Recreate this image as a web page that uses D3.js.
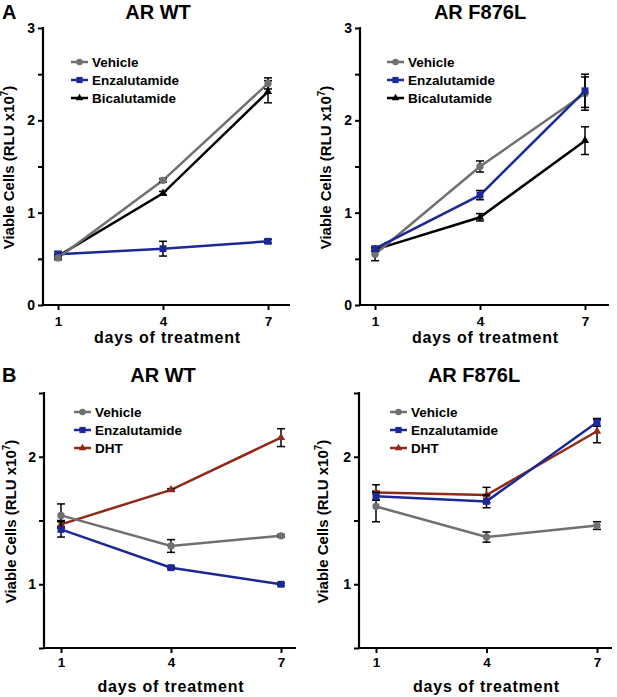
<!DOCTYPE html>
<html>
<head>
<meta charset="utf-8">
<script src="https://cdn.jsdelivr.net/npm/d3@7"></script>
<style>
  body { margin: 0; background: #fff; }
  text { font-family: "Liberation Sans", Arial, sans-serif; font-weight: bold; }
</style>
</head>
<body>
<svg id="chart"></svg>
<script>
const svgWidth = 617;
const svgHeight = 697;

// data (RLU x10^7), days 1 / 4 / 7
const days = [1, 4, 7];
const namesA = ["Vehicle", "Enzalutamide", "Bicalutamide"];
const namesB = ["Vehicle", "Enzalutamide", "DHT"];

const aWtVehicle = [0.51, 1.35, 2.40];
const aWtVehicleErr = [0.02, 0.02, 0.06];
const aWtEnza = [0.55, 0.61, 0.69];
const aWtEnzaErr = [0.03, 0.08, 0.02];
const aWtBica = [0.53, 1.21, 2.31];
const aWtBicaErr = [0.02, 0.02, 0.12];

const aMutVehicle = [0.55, 1.50, 2.29];
const aMutVehicleErr = [0.07, 0.06, 0.18];
const aMutEnza = [0.61, 1.19, 2.32];
const aMutEnzaErr = [0.02, 0.05, 0.18];
const aMutBica = [0.60, 0.95, 1.78];
const aMutBicaErr = [0.02, 0.04, 0.15];

const bWtVehicle = [1.54, 1.30, 1.38];
const bWtVehicleErr = [0.09, 0.05, 0.01];
const bWtEnza = [1.43, 1.13, 1.00];
const bWtEnzaErr = [0.06, 0.01, 0.01];
const bWtDht = [1.47, 1.74, 2.15];
const bWtDhtErr = [0.03, 0.01, 0.07];

const bMutVehicle = [1.61, 1.37, 1.46];
const bMutVehicleErr = [0.12, 0.04, 0.03];
const bMutEnza = [1.69, 1.65, 2.27];
const bMutEnzaErr = [0.03, 0.05, 0.03];
const bMutDht = [1.72, 1.70, 2.20];
const bMutDhtErr = [0.06, 0.06, 0.09];

const yTicksA = [0, 0.5, 1, 1.5, 2, 2.5, 3];
const yTicksB = [0.5, 1, 1.5, 2, 2.5];

const colors = { Vehicle: "#707070", Enzalutamide: "#1c2896", Bicalutamide: "#000000", DHT: "#8e2a17" };
const shapes = { Vehicle: d3.symbolCircle, Enzalutamide: d3.symbolSquare, Bicalutamide: d3.symbolTriangle, DHT: d3.symbolTriangle };
const sizes = { Vehicle: 42, Enzalutamide: 48, Bicalutamide: 30, DHT: 30 };

const svg = d3.select("#chart").attr("width", svgWidth).attr("height", svgHeight);

const panels = [
  { title: "AR WT", letter: "A", names: namesA, series: [aWtVehicle, aWtEnza, aWtBica], errs: [aWtVehicleErr, aWtEnzaErr, aWtBicaErr],
    axisX: 43, x1: 58, x7: 268, xEnd: 290, top: 28, bottom: 305, domain: [0, 3], ticks: yTicksA,
    titleX: 158, titleY: 19, legX: 71, legY: 62, ylabX: 14, tickY: 326, xlabY: 342.5, drawOrder: [2, 1, 0] },
  { title: "AR F876L", names: namesA, series: [aMutVehicle, aMutEnza, aMutBica], errs: [aMutVehicleErr, aMutEnzaErr, aMutBicaErr],
    axisX: 360, x1: 375, x7: 585, xEnd: 609, top: 28, bottom: 305, domain: [0, 3], ticks: yTicksA,
    titleX: 480, titleY: 19, legX: 387, legY: 62, ylabX: 331, tickY: 326, xlabY: 342.5, drawOrder: [2, 0, 1] },
  { title: "AR WT", letter: "B", names: namesB, series: [bWtVehicle, bWtEnza, bWtDht], errs: [bWtVehicleErr, bWtEnzaErr, bWtDhtErr],
    axisX: 44, x1: 61, x7: 281, xEnd: 296, top: 393, bottom: 648, domain: [0.5, 2.5], ticks: yTicksB,
    titleX: 163, titleY: 382, legX: 74, legY: 412, ylabX: 16, tickY: 667, xlabY: 692, drawOrder: [2, 0, 1] },
  { title: "AR F876L", names: namesB, series: [bMutVehicle, bMutEnza, bMutDht], errs: [bMutVehicleErr, bMutEnzaErr, bMutDhtErr],
    axisX: 359, x1: 376, x7: 597, xEnd: 612, top: 393, bottom: 648, domain: [0.5, 2.5], ticks: yTicksB,
    titleX: 474, titleY: 382, legX: 390, legY: 412, ylabX: 328, tickY: 667, xlabY: 692, drawOrder: [0, 2, 1] }
];

panels.forEach(p => {
  const g = svg.append("g");
  const x = d3.scaleLinear().domain([1, 7]).range([p.x1, p.x7]);
  const y = d3.scaleLinear().domain(p.domain).range([p.bottom, p.top]);

  // y axis
  const yAxis = d3.axisLeft(y).tickValues(p.ticks).tickSize(5).tickPadding(3)
    .tickFormat(d => Number.isInteger(d) ? d : "");
  const ya = g.append("g").attr("transform", `translate(${p.axisX},0)`).call(yAxis);
  ya.select(".domain").remove();
  ya.selectAll(".tick line").attr("stroke", "#000").attr("stroke-width", 2);
  ya.selectAll(".tick text").attr("font-size", 14).attr("fill", "#000");
  g.append("line").attr("x1", p.axisX).attr("x2", p.axisX).attr("y1", p.top - 1).attr("y2", p.bottom + 1)
    .attr("stroke", "#000").attr("stroke-width", 2.2);

  // x axis
  const xAxis = d3.axisBottom(x).tickValues(days).tickSize(5).tickFormat(d3.format("d"));
  const xa = g.append("g").attr("transform", `translate(0,${p.bottom})`).call(xAxis);
  xa.select(".domain").remove();
  xa.selectAll(".tick line").attr("stroke", "#000").attr("stroke-width", 2);
  xa.selectAll(".tick text").attr("font-size", 13.5).attr("fill", "#000").attr("y", null).attr("dy", null)
    .attr("transform", `translate(0,${p.tickY - p.bottom})`);
  g.append("line").attr("x1", p.axisX - 1).attr("x2", p.xEnd).attr("y1", p.bottom).attr("y2", p.bottom)
    .attr("stroke", "#000").attr("stroke-width", 2.2);

  // labels
  g.append("text").attr("x", p.titleX).attr("y", p.titleY).attr("text-anchor", "middle")
    .attr("font-size", 20).text(p.title);
  if (p.letter) {
    g.append("text").attr("x", 2).attr("y", p.titleY).attr("font-size", 20).text(p.letter);
  }
  g.append("text").attr("x", (p.axisX + p.xEnd) / 2 + 1).attr("y", p.xlabY).attr("text-anchor", "middle")
    .attr("font-size", 16).attr("letter-spacing", 0.8).text("days of treatment");
  const yl = g.append("text")
    .attr("transform", `translate(${p.ylabX},${(p.top + p.bottom) / 2 + 1}) rotate(-90)`)
    .attr("text-anchor", "middle").attr("font-size", 15);
  yl.append("tspan").text("Viable Cells (RLU x10");
  yl.append("tspan").attr("dy", -6).attr("font-size", 10).text("7");
  yl.append("tspan").attr("dy", 6).text(")");

  const line = d3.line().x((d, i) => x(days[i])).y(d => y(d));

  p.drawOrder.forEach(k => {
    const name = p.names[k];
    const vals = p.series[k];
    const errs = p.errs[k];
    const sg = g.append("g");
    sg.append("path").datum(vals).attr("d", line).attr("fill", "none")
      .attr("stroke", colors[name]).attr("stroke-width", 2.5);
    // error bars
    const eb = sg.selectAll(".eb").data(vals).enter().append("g");
    eb.append("line").attr("x1", (d, i) => x(days[i])).attr("x2", (d, i) => x(days[i]))
      .attr("y1", (d, i) => y(d - errs[i])).attr("y2", (d, i) => y(d + errs[i]))
      .attr("stroke", "#000").attr("stroke-width", 1.5);
    [-1, 1].forEach(s => {
      eb.append("line").attr("x1", (d, i) => x(days[i]) - 4).attr("x2", (d, i) => x(days[i]) + 4)
        .attr("y1", (d, i) => y(d + s * errs[i])).attr("y2", (d, i) => y(d + s * errs[i]))
        .attr("stroke", "#000").attr("stroke-width", 1.5);
    });
    sg.selectAll(".mk").data(vals).enter().append("path")
      .attr("d", d3.symbol().type(shapes[name]).size(sizes[name]))
      .attr("transform", (d, i) => `translate(${x(days[i])},${y(d)})`)
      .attr("fill", colors[name]);
  });

  // legend
  p.names.forEach((name, k) => {
    const ly = p.legY + k * 18;
    g.append("line").attr("x1", p.legX).attr("x2", p.legX + 17).attr("y1", ly).attr("y2", ly)
      .attr("stroke", colors[name]).attr("stroke-width", 2.5);
    g.append("path").attr("d", d3.symbol().type(shapes[name]).size(sizes[name] * 0.8))
      .attr("transform", `translate(${p.legX + 8.5},${ly})`).attr("fill", colors[name]);
    g.append("text").attr("x", p.legX + 21).attr("y", ly + 5).attr("font-size", 13.5).text(name);
  });
});
</script>
</body>
</html>
